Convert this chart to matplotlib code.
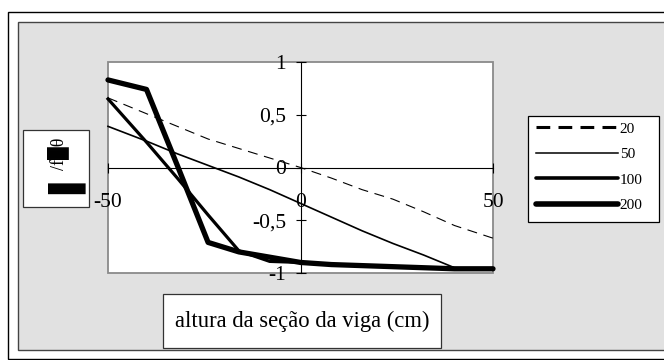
import matplotlib.pyplot as plt
from matplotlib.lines import Line2D
from matplotlib.patches import Rectangle

plt.rcParams['font.family'] = ['Liberation Serif', 'DejaVu Serif']

# tensão normalizada ao longo da altura da seção, para cada caso
altura = [-50, -40, -32, -24, -16, -8, 0, 8, 16, 24, 32, 40, 50]
s20 = [0.66, 0.51, 0.39, 0.27, 0.18, 0.09, 0.0, -0.10, -0.21, -0.30, -0.42, -0.55, -0.67]
s50 = [0.39, 0.25, 0.13, 0.02, -0.09, -0.21, -0.34, -0.47, -0.60, -0.72, -0.83, -0.95, -0.96]
s100 = [0.65, 0.24, -0.10, -0.45, -0.79, -0.89, -0.90, -0.92, -0.93, -0.94, -0.95, -0.96, -0.96]
s200 = [0.83, 0.74, 0.02, -0.71, -0.80, -0.85, -0.90, -0.92, -0.93, -0.94, -0.95, -0.96, -0.96]
labels = ['20', '50', '100', '200']

xticks = [-50, 0, 50]
yticks = [-1, -0.5, 0, 0.5, 1]
ytick_labels = ['-1', '-0,5', '0', '0,5', '1']

W, H = 664, 360


def fx(px):
    return px / W


def fy(py):
    return 1 - py / H


fig = plt.figure(figsize=(W / 100, H / 100), dpi=100)
fig.patch.set_facecolor('white')

# moldura externa e painel cinza (atrás dos eixos)
fig.add_artist(Rectangle((fx(8), fy(359)), fx(700 - 8), 347 / H, transform=fig.transFigure,
                         facecolor='white', edgecolor='black', lw=1.0, zorder=-2))
fig.add_artist(Rectangle((fx(18), fy(350)), fx(700 - 18), 328 / H, transform=fig.transFigure,
                         facecolor='#e1e1e1', edgecolor='#444444', lw=1.0, zorder=-1))

ax = fig.add_axes([fx(108), fy(273), (493 - 108) / W, (273 - 62) / H])
ax.set_facecolor('white')
ax.add_patch(Rectangle((0, 0), 1, 1, transform=ax.transAxes, fill=False,
                       edgecolor='#8a8a8a', lw=1.3, clip_on=False, zorder=1))

ax.plot(altura, s20, color='black', lw=0.8, dashes=(9, 6), clip_on=False, zorder=3)
ax.plot(altura, s50, color='black', lw=1.2, clip_on=False, zorder=3)
ax.plot(altura, s100, color='black', lw=2.3, solid_joinstyle='round', clip_on=False, zorder=3)
ax.plot(altura, s200, color='black', lw=3.8, solid_capstyle='round', solid_joinstyle='round',
        clip_on=False, zorder=3)

ax.set_xlim(-50, 50)
ax.set_ylim(-1, 1)
for side in ['top', 'right']:
    ax.spines[side].set_visible(False)
ax.spines['left'].set_position(('data', 0))
ax.spines['bottom'].set_position(('data', 0))
for side in ['left', 'bottom']:
    ax.spines[side].set_linewidth(0.8)
    ax.spines[side].set_zorder(2)

ax.set_xticks(xticks)
ax.set_xticklabels([str(t) for t in xticks])
ax.set_yticks(yticks)
ax.set_yticklabels(ytick_labels)
ax.tick_params(axis='both', direction='inout', length=7, width=0.8, labelsize=15.5)
ax.tick_params(axis='x', pad=15)
ax.tick_params(axis='y', pad=7)

# legenda: moldura própria + entradas sem moldura
fig.add_artist(Rectangle((fx(528), fy(222)), 131 / W, 106 / H, transform=fig.transFigure,
                         facecolor='white', edgecolor='black', lw=0.9))
handles = [
    Line2D([], [], color='black', lw=2.2, dashes=(4.5, 2.7)),
    Line2D([], [], color='black', lw=1.1),
    Line2D([], [], color='black', lw=2.6, solid_capstyle='round'),
    Line2D([], [], color='black', lw=4.0, solid_capstyle='round'),
]
fig.legend(handles, labels, loc='upper left', bbox_to_anchor=(fx(536), fy(122)),
           borderaxespad=0, frameon=False, fontsize=11, borderpad=0,
           handlelength=5.36, handletextpad=0.13, labelspacing=0.77)

# caixa do rótulo vertical
fig.add_artist(Rectangle((fx(23), fy(207)), 66 / W, 77 / H, transform=fig.transFigure,
                         facecolor='white', edgecolor='#333333', lw=0.9))
fig.text(fx(56), fy(183), '▐', rotation=90, fontsize=22, ha='center', va='center')
fig.text(fx(58), fy(154), '/f█θ', rotation=90, fontsize=13, ha='center', va='center')

# caixa do rótulo horizontal
fig.add_artist(Rectangle((fx(163), fy(348)), (441 - 163) / W, 54 / H, transform=fig.transFigure,
                         facecolor='white', edgecolor='#333333', lw=0.9))
fig.text(fx(302), fy(321), 'altura da seção da viga (cm)', fontsize=16.3, ha='center', va='center')

fig.savefig('out.png', dpi=100)
